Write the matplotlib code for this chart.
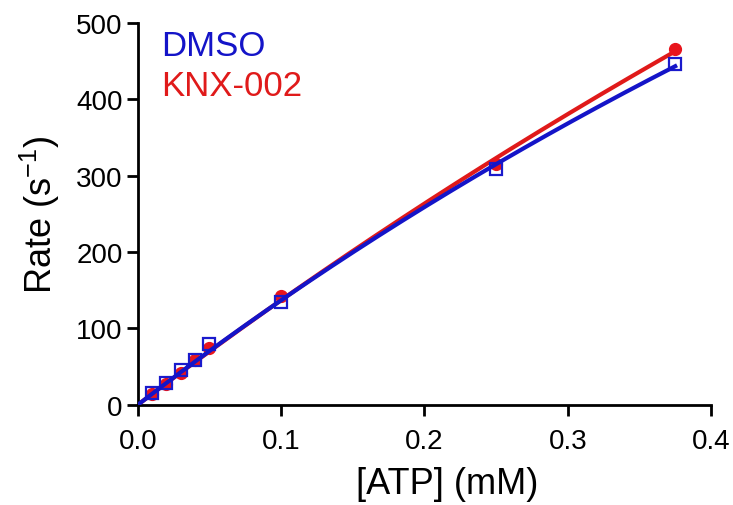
import matplotlib
matplotlib.use('Agg')
import matplotlib.pyplot as plt
import numpy as np

plt.rcParams['font.family'] = ['Liberation Sans', 'DejaVu Sans']

ATP = np.array([0.01, 0.02, 0.03, 0.04, 0.05, 0.1, 0.25, 0.375])
DMSO = np.array([15, 28, 45, 58, 80, 135, 309, 446])
KNX = np.array([14, 27, 42, 58, 74, 142, 315, 466])


def mm_fit(x, y, vmax=1000.0, km=0.5, n_iter=200):
    """Michaelis-Menten fit by Gauss-Newton"""
    p = np.array([vmax, km])
    for _ in range(n_iter):
        f = p[0] * x / (p[1] + x)
        J = np.column_stack([x / (p[1] + x), -p[0] * x / (p[1] + x) ** 2])
        step, *_ = np.linalg.lstsq(J, y - f, rcond=None)
        p = p + step
    return p


fig = plt.figure(figsize=(7.33, 5.06), dpi=100)
ax = fig.add_axes([0.188, 0.198, 0.782, 0.755])

xs = np.linspace(0, ATP.max(), 200)
pk = mm_fit(ATP, KNX)
pd = mm_fit(ATP, DMSO)

ax.plot(ATP, KNX, 'o', color='#e8141c', ms=8.5, zorder=3, clip_on=False)
ax.plot(xs, pk[0] * xs / (pk[1] + xs), color='#e01a1a', lw=3, zorder=2)
ax.plot(ATP, DMSO, 's', mfc='none', mec='#1a1acc', mew=1.6, ms=9, zorder=4, clip_on=False)
ax.plot(xs, pd[0] * xs / (pd[1] + xs), color='#1414c8', lw=3, zorder=5)

ax.set_xlim(0, 0.4)
ax.set_ylim(0, 500)
ax.set_xticks([0.0, 0.1, 0.2, 0.3, 0.4])
ax.set_xticklabels(['0.0', '0.1', '0.2', '0.3', '0.4'])
ax.set_yticks([0, 100, 200, 300, 400, 500])

for s in ['top', 'right']:
    ax.spines[s].set_visible(False)
for s in ['left', 'bottom']:
    ax.spines[s].set_linewidth(2)
ax.tick_params(width=2, length=8, labelsize=20)
ax.tick_params(axis='x', pad=9)
ax.tick_params(axis='y', pad=3)

ax.set_xlabel('[ATP] (mM)', fontsize=26)
ax.xaxis.set_label_coords(0.54, -0.16)
ax.set_ylabel('Rate (s$^{\\mathregular{ -1}}$)', fontsize=26, labelpad=10)

ax.text(0.04, 0.985, 'DMSO', color='#1414c8', fontsize=25, transform=ax.transAxes, va='top')
ax.text(0.04, 0.88, 'KNX-002', color='#e01a1a', fontsize=25, transform=ax.transAxes, va='top')

fig.savefig('out.png', dpi=100)
